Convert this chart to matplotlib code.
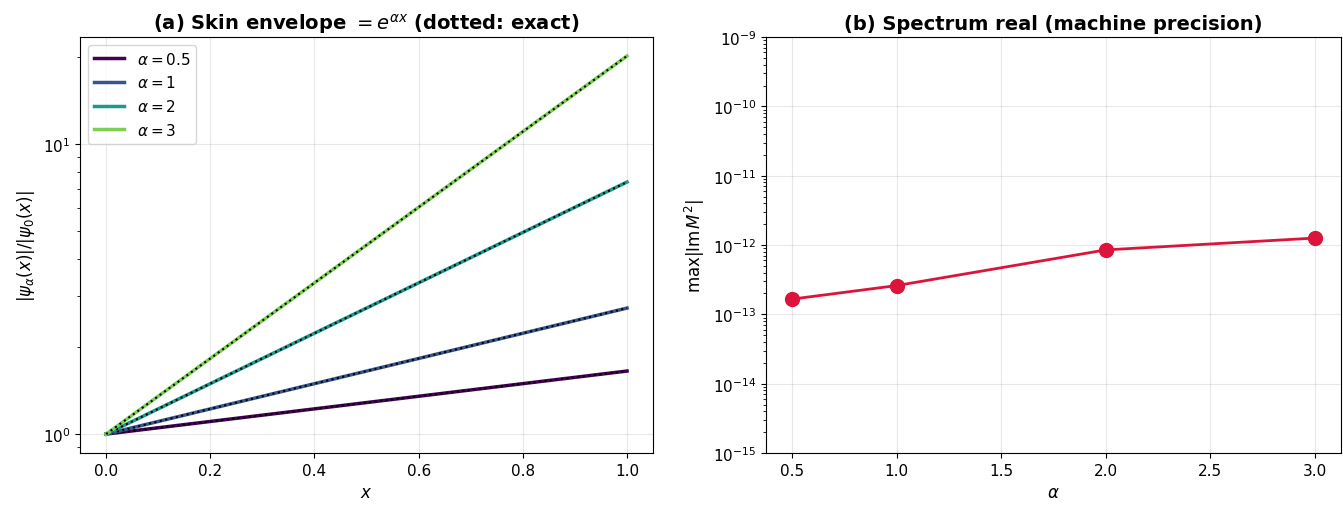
import numpy as np
import matplotlib
matplotlib.use('Agg')
from matplotlib import pyplot as plt

# left panel: envelope values read at x=0 and x=1
alphas = [0.5, 1, 2, 3]
x_pts = [0.0, 1.0]
env_num = [[1.0, 1.649], [1.0, 2.718], [1.0, 7.389], [1.0, 20.09]]
env_exact = [[1.0, 1.649], [1.0, 2.718], [1.0, 7.389], [1.0, 20.09]]

# right panel
alpha_b = [0.5, 1.0, 2.0, 3.0]
max_im = [1.66e-13, 2.6e-13, 8.5e-13, 1.26e-12]

fig = plt.figure(figsize=(13.43, 5.06), dpi=100)
ax1 = fig.add_axes([0.0596, 0.1028, 0.4267, 0.822])
ax2 = fig.add_axes([0.5704, 0.1028, 0.4281, 0.822])

cols = plt.cm.viridis(np.linspace(0, 0.8, len(alphas)))
for a, yn, ye, c in zip(alphas, env_num, env_exact, cols):
    ax1.plot(x_pts, yn, color=c, lw=2.5, label=r'$\alpha=%g$' % a)
    ax1.plot(x_pts, ye, 'k:', lw=1.5)
ax1.set_yscale('log')
ax1.set_xlabel(r'$x$', fontsize=12)
ax1.set_ylabel(r'$|\psi_\alpha(x)|/|\psi_0(x)|$', fontsize=12)
ax1.set_title(r'(a) Skin envelope $=e^{\alpha x}$ (dotted: exact)', fontsize=14, fontweight='bold')
ax1.legend(loc='upper left', fontsize=11)
ax1.grid(alpha=0.3)
ax1.tick_params(labelsize=11)

ax2.semilogy(alpha_b, max_im, 'o-', color='crimson', lw=2, ms=10)
ax2.set_ylim(1e-15, 1e-9)
ax2.set_xlabel(r'$\alpha$', fontsize=12)
ax2.set_ylabel(r'$\max|\mathrm{Im}\,M^2|$', fontsize=12)
ax2.set_title('(b) Spectrum real (machine precision)', fontsize=14, fontweight='bold')
ax2.grid(alpha=0.3)
ax2.tick_params(labelsize=11)

plt.savefig('out.png')
